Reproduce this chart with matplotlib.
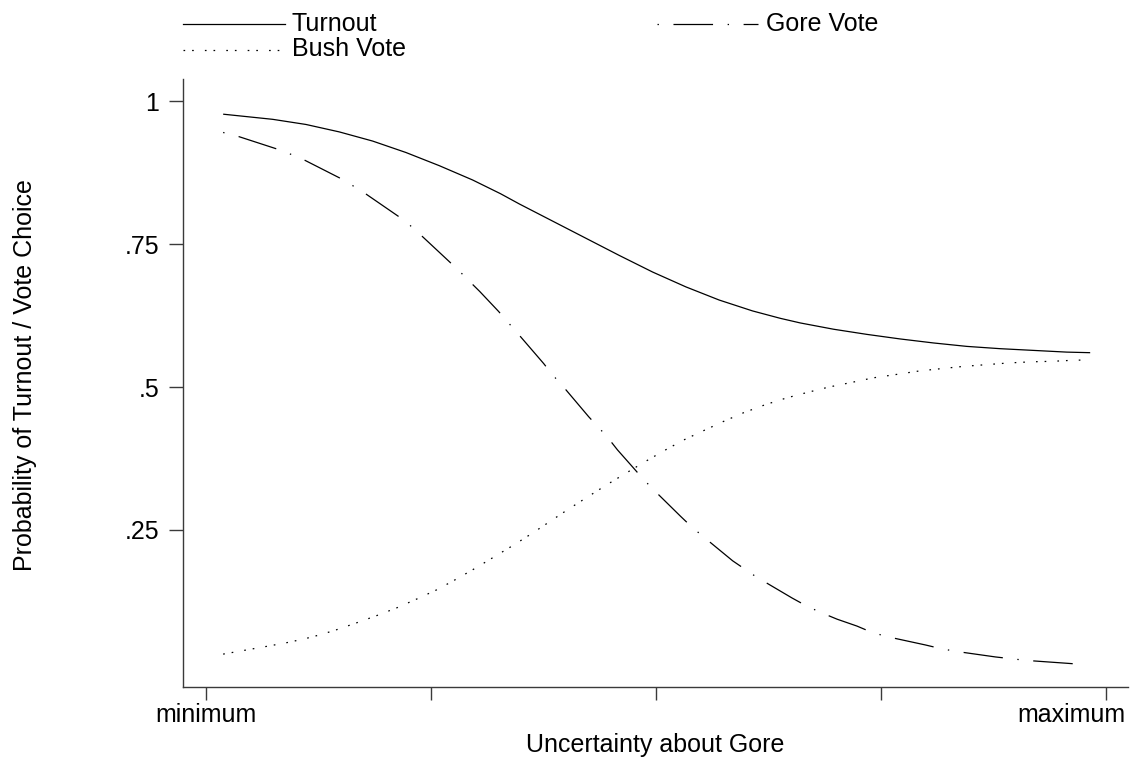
import matplotlib
matplotlib.use("Agg")
import matplotlib.pyplot as plt
from matplotlib.lines import Line2D
from matplotlib.transforms import ScaledTranslation

plt.rcParams['font.family'] = ['Liberation Sans', 'DejaVu Sans']
plt.rcParams['lines.scale_dashes'] = False

# Data (x: 0 = minimum, 1 = maximum uncertainty)
turnout_x = [0.019, 0.074, 0.111, 0.148, 0.185, 0.222, 0.259, 0.296, 0.327, 0.348, 0.385,
             0.422, 0.459, 0.496, 0.533, 0.570, 0.607, 0.638, 0.660, 0.697, 0.734, 0.771,
             0.808, 0.845, 0.882, 0.919, 0.956, 0.982]
turnout_y = [0.977, 0.968, 0.959, 0.946, 0.930, 0.910, 0.887, 0.862, 0.838, 0.820, 0.790,
             0.760, 0.730, 0.701, 0.675, 0.652, 0.633, 0.620, 0.612, 0.601, 0.592, 0.584,
             0.577, 0.571, 0.567, 0.564, 0.561, 0.560]

gore_x = [0.019, 0.036, 0.079, 0.094, 0.109, 0.149, 0.164, 0.178, 0.214, 0.227, 0.239,
          0.271, 0.283, 0.295, 0.304, 0.325, 0.336, 0.346, 0.375, 0.385, 0.396, 0.425,
          0.435, 0.446, 0.457, 0.475, 0.485, 0.496, 0.527, 0.539, 0.551, 0.585, 0.599,
          0.613, 0.623, 0.651, 0.666, 0.681, 0.701, 0.723, 0.738, 0.755, 0.799, 0.815,
          0.832, 0.877, 0.894, 0.911, 0.956, 0.973]
gore_y = [0.945, 0.938, 0.916, 0.907, 0.897, 0.865, 0.851, 0.837, 0.798, 0.782, 0.765,
          0.718, 0.700, 0.681, 0.667, 0.632, 0.612, 0.594, 0.541, 0.521, 0.502, 0.448,
          0.431, 0.412, 0.390, 0.358, 0.340, 0.322, 0.274, 0.256, 0.240, 0.196, 0.181,
          0.166, 0.157, 0.131, 0.118, 0.107, 0.094, 0.082, 0.072, 0.064, 0.049, 0.043,
          0.038, 0.028, 0.025, 0.022, 0.017, 0.015]

bush_x = [0.019, 0.044, 0.069, 0.093, 0.118, 0.142, 0.166, 0.189, 0.212, 0.235, 0.257,
          0.279, 0.300, 0.321, 0.342, 0.363, 0.383, 0.403, 0.424, 0.445, 0.466, 0.486,
          0.508, 0.530, 0.553, 0.575, 0.597, 0.621, 0.645, 0.669, 0.692, 0.717, 0.741,
          0.767, 0.792, 0.816, 0.841, 0.866, 0.891, 0.916, 0.941, 0.966, 0.977]
bush_y = [0.033, 0.040, 0.047, 0.054, 0.063, 0.074, 0.087, 0.100, 0.114, 0.130, 0.146,
          0.165, 0.184, 0.204, 0.224, 0.245, 0.266, 0.287, 0.308, 0.329, 0.349, 0.368,
          0.388, 0.407, 0.424, 0.440, 0.455, 0.469, 0.481, 0.491, 0.500, 0.508, 0.516,
          0.522, 0.528, 0.532, 0.536, 0.539, 0.542, 0.544, 0.545, 0.547, 0.547]

x_ticks = [0, 0.25, 0.5, 0.75, 1.0]
x_ticklabels = ['minimum', '', '', '', 'maximum']
y_ticks = [0.25, 0.5, 0.75, 1.0]
y_ticklabels = ['.25', '.5', '.75', '1']

W, H = 1136, 759
fig = plt.figure(figsize=(W / 100, H / 100), dpi=100)
ax = fig.add_axes([183 / W, 1 - 687 / H, (1128 - 183) / W, (687 - 79) / H])

lw = 0.9
gore_dash = (0, (1.0, 10.5, 28.5, 10.5))
bush_dash = (0, (1.2, 5.0, 1.2, 8.0))

ax.plot(turnout_x, turnout_y, color='black', lw=lw, solid_capstyle='butt',
        solid_joinstyle='round')
ax.plot(gore_x, gore_y, color='black', lw=lw, linestyle=gore_dash, dash_capstyle='butt')
ax.plot(bush_x, bush_y, color='black', lw=lw, linestyle=bush_dash, dash_capstyle='butt')

ax.set_xlim(-0.0256, 1.024)
ax.set_ylim(-0.0245, 1.0385)

for s in ['top', 'right']:
    ax.spines[s].set_visible(False)
spine_col = '#3a3a3a'
for s in ['left', 'bottom']:
    ax.spines[s].set_color(spine_col)
    ax.spines[s].set_linewidth(1.0)

ax.set_xticks(x_ticks)
ax.set_xticklabels(x_ticklabels)
ax.set_yticks(y_ticks)
ax.set_yticklabels(y_ticklabels)
ax.tick_params(axis='x', direction='out', length=9.5, width=1.0, color=spine_col,
               labelsize=18, pad=2)
ax.tick_params(axis='y', direction='out', length=10, width=1.0, color=spine_col,
               labelsize=18, pad=7)

# keep "maximum" inside the figure, as in the reference
max_lbl = ax.get_xticklabels()[-1]
max_lbl.set_horizontalalignment('right')
max_lbl.set_transform(max_lbl.get_transform() + ScaledTranslation(19 / 100, 0, fig.dpi_scale_trans))

fig.text(25 / W, 1 - 375 / H, 'Probability of Turnout / Vote Choice', rotation=90,
         ha='center', va='center', fontsize=18)
fig.text(655 / W, 1 - 745 / H, 'Uncertainty about Gore', ha='center', va='center', fontsize=18)

# Legend (drawn in figure pixel coordinates)
def fx(px):
    return px / W

def fy(py):
    return 1 - py / H

fig.add_artist(Line2D([fx(183), fx(285)], [fy(24), fy(24)], color='black', lw=lw,
                      transform=fig.transFigure))
fig.text(fx(292), fy(31), 'Turnout', ha='left', va='baseline', fontsize=18)
fig.add_artist(Line2D([fx(183), fx(285)], [fy(50), fy(50)], color='black', lw=lw,
                      linestyle=bush_dash, dash_capstyle='butt', transform=fig.transFigure))
fig.text(fx(292), fy(56), 'Bush Vote', ha='left', va='baseline', fontsize=18)
fig.add_artist(Line2D([fx(657), fx(758)], [fy(24), fy(24)], color='black', lw=lw,
                      linestyle=gore_dash, dash_capstyle='butt', transform=fig.transFigure))
fig.text(fx(766), fy(31), 'Gore Vote', ha='left', va='baseline', fontsize=18)

fig.savefig('out.png', dpi=100)
